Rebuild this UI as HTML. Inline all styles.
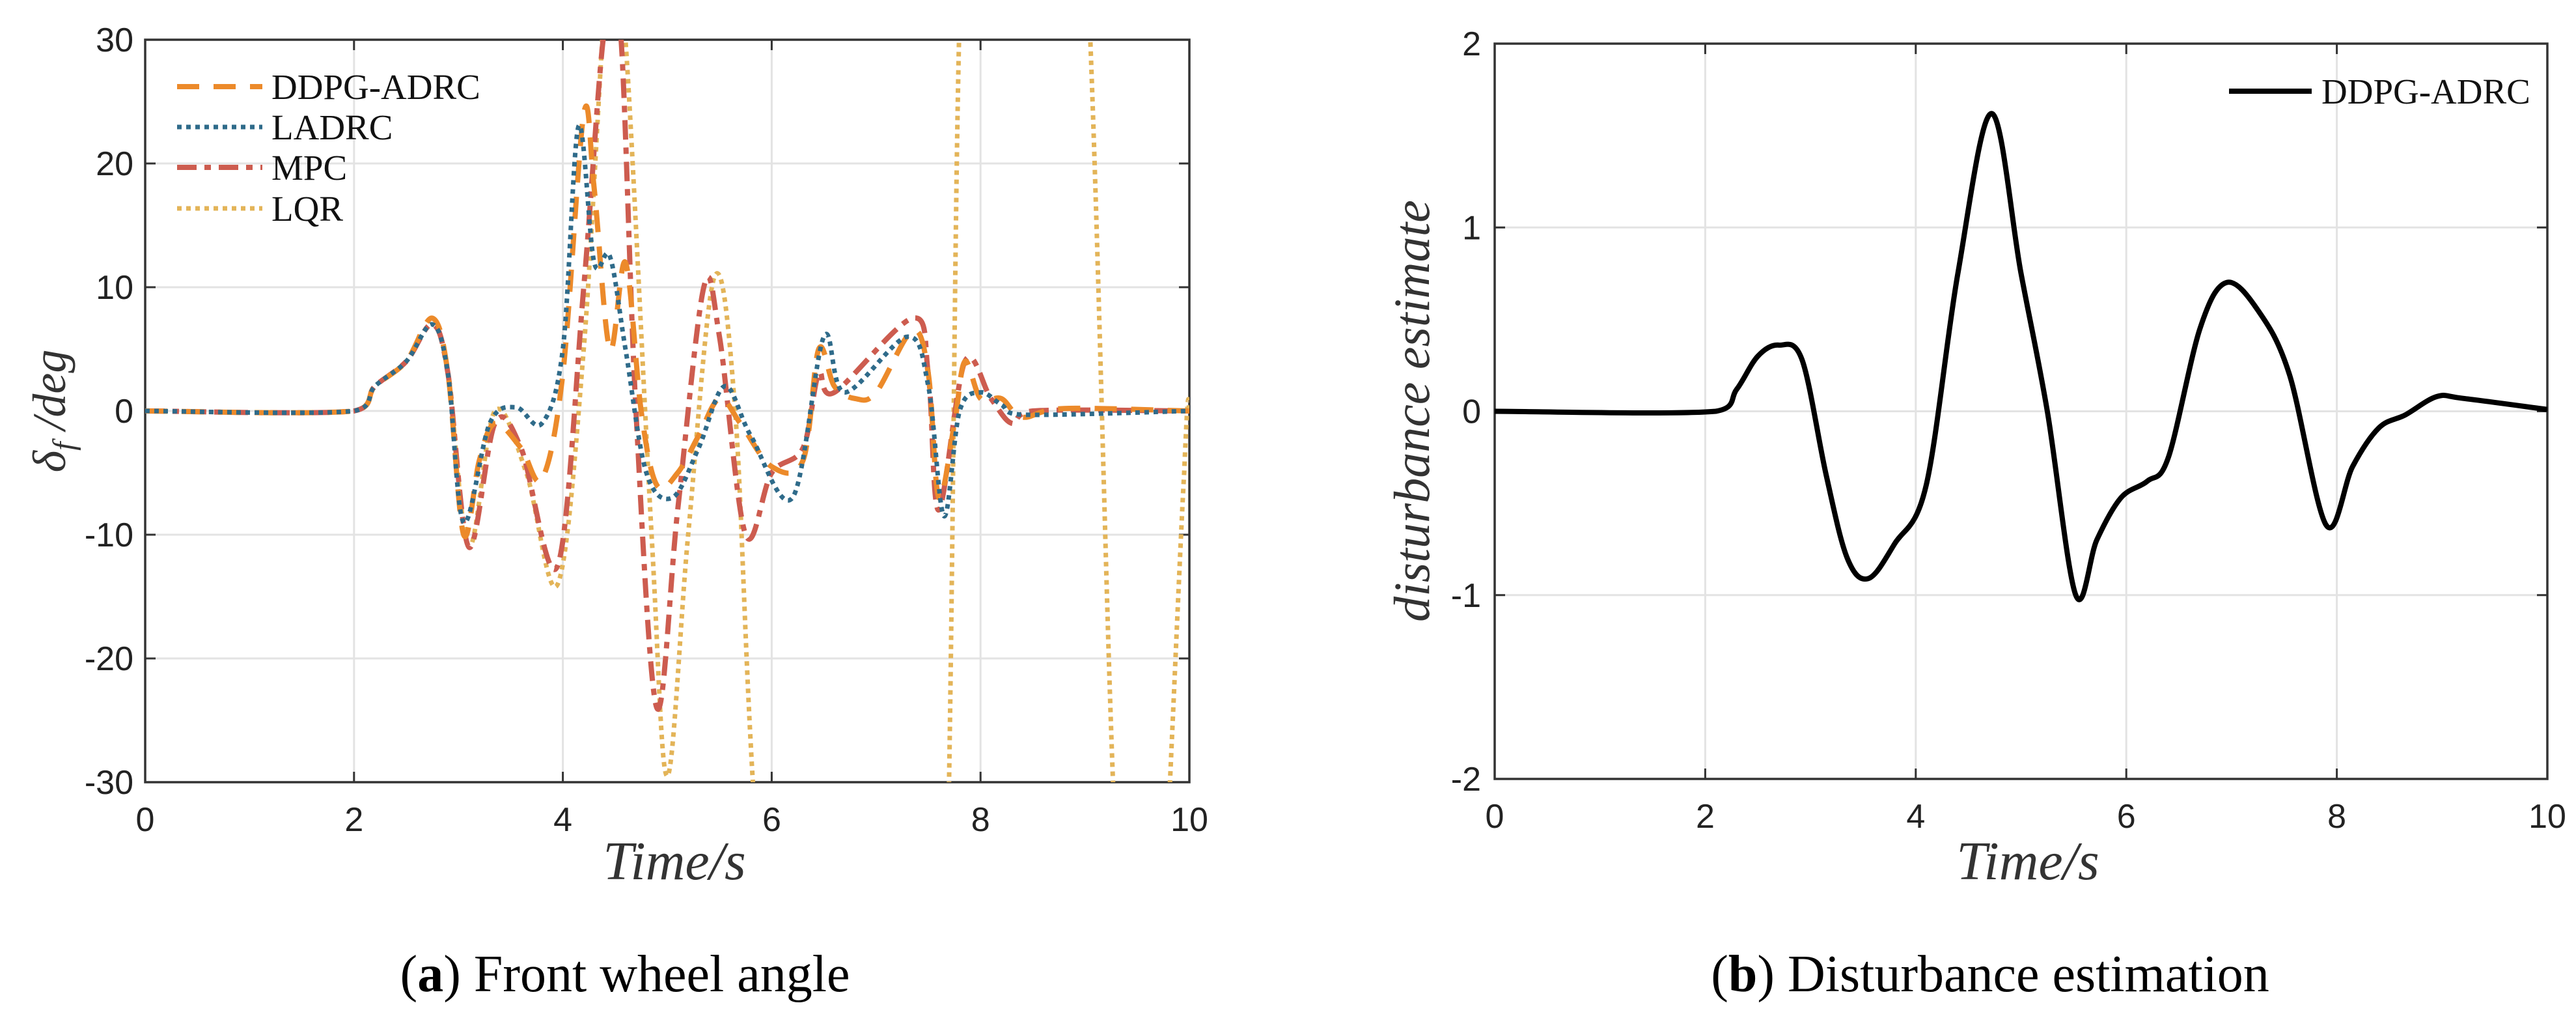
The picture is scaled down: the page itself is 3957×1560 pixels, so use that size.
<!DOCTYPE html>
<html><head><meta charset="utf-8">
<style>
html,body{margin:0;padding:0;background:#fff;overflow:hidden;width:3957px;height:1560px;}
svg{display:block;}
</style></head>
<body>
<svg id="fig" width="3957" height="1560" viewBox="0 0 3957 1560" xmlns="http://www.w3.org/2000/svg">
<defs>
<clipPath id="clipA"><rect x="223" y="61" width="1604" height="1140"/></clipPath>
<clipPath id="clipB"><rect x="2296" y="67" width="1617" height="1129"/></clipPath>
</defs>
<g id="plotA"></g>
<g id="plotB"></g>
<text x="960" y="1522" font-family="Liberation Serif, serif" font-size="80" text-anchor="middle">(<tspan font-weight="bold">a</tspan>) Front wheel angle</text>
<text x="3057" y="1522" font-family="Liberation Serif, serif" font-size="80" text-anchor="middle">(<tspan font-weight="bold">b</tspan>) Disturbance estimation</text>
</svg>
<script>
// ---- data ----
const xTicks = [0, 2, 4, 6, 8, 10];
const yTicksA = [-30, -20, -10, 0, 10, 20, 30];
const yTicksB = [-2, -1, 0, 1, 2];
const seriesNames = ["DDPG-ADRC", "LADRC", "MPC", "LQR"];
const ddpgT = [0,2,2.2,2.5,2.75,2.9,3.05,3.2,3.35,3.6,3.8,4.0,4.2,4.3,4.45,4.6,4.75,4.9,5.1,5.3,5.5,5.7,6.0,6.3,6.45,6.6,6.8,7.0,7.35,7.5,7.6,7.75,7.85,8.0,8.2,8.4,8.8,10];
const ddpgV = [0,0,2,4,7.5,3,-10,-4,-1,-3,-5.5,3,24,18,5,12,0,-6,-5,-2,1,-1,-4.5,-4,5,2,1,1.5,6.5,3,-7,-1,4,1,1,-0.5,0.2,0];
const ladrcT = [0,2,2.2,2.5,2.75,2.9,3.05,3.3,3.55,3.8,4.0,4.15,4.3,4.45,4.6,4.8,5.05,5.3,5.55,5.8,6.2,6.5,6.7,7.3,7.5,7.65,7.8,8.0,8.2,8.4,10];
const ladrcV = [0,0,2,4,7,3,-9,-1,0.3,-1,5,23,12,12.5,5,-5,-7,-3,2,-2,-7,6,1.5,6,2,-8.5,0,1.5,0.5,-0.3,0];
const mpcT = [0,2,2.2,2.5,2.75,2.9,3.1,3.35,3.6,3.95,4.2,4.4,4.55,4.7,4.9,5.1,5.35,5.5,5.75,6.0,6.3,6.45,6.6,7.35,7.5,7.6,7.85,8.1,8.3,8.5,10];
const mpcV = [0,0,2,4,7,3,-11,-1,-3,-12.5,10,31,31,0,-24,-8,10,6,-10,-5,-3,3,1.5,7.5,3,-8,4,1,-1,0,0];
const lqrT = [0,2,2.2,2.5,2.75,2.9,3.1,3.35,3.65,3.95,4.2,4.45,4.6,4.85,5.0,5.2,5.45,5.65,5.85,6.3,7.0,7.6,7.8,8.0,8.5,9.0,9.3,9.6,9.95,10];
const lqrV = [0,0,2,4,7,3,-11,0,-5,-14,5,38,30,-10,-29.5,-10,10.8,0,-34,-80,-100,-60,32,70,100,40,-36,-60,-5,0];
const distT = [0,2.1,2.3,2.5,2.7,2.92,3.15,3.35,3.55,3.8,4.1,4.4,4.72,5.0,5.25,5.52,5.72,5.95,6.2,6.4,6.7,6.95,7.25,7.55,7.9,8.15,8.4,8.65,8.95,9.2,10];
const distV = [0,0,0.12,0.3,0.36,0.28,-0.35,-0.8,-0.91,-0.72,-0.4,0.75,1.62,0.75,0.0,-1.0,-0.7,-0.47,-0.38,-0.25,0.45,0.7,0.55,0.2,-0.62,-0.3,-0.09,-0.02,0.08,0.07,0.01];

const NS = "http://www.w3.org/2000/svg";
function mk(tag, attrs, parent){const e=document.createElementNS(NS,tag);for(const k in attrs)e.setAttribute(k,attrs[k]);parent.appendChild(e);return e;}

function smoothPath(xs, ys, sx, sy){
  const P = xs.map((x,i)=>[sx(x), sy(ys[i])]);
  let d = "M"+P[0][0].toFixed(1)+","+P[0][1].toFixed(1);
  for(let i=0;i<P.length-1;i++){
    const p0=P[Math.max(0,i-1)], p1=P[i], p2=P[i+1], p3=P[Math.min(P.length-1,i+2)];
    const c1=[p1[0]+(p2[0]-p0[0])/6, p1[1]+(p2[1]-p0[1])/6];
    const c2=[p2[0]-(p3[0]-p1[0])/6, p2[1]-(p3[1]-p1[1])/6];
    c1[0]=Math.min(Math.max(c1[0],p1[0]),p2[0]); c2[0]=Math.min(Math.max(c2[0],p1[0]),p2[0]);
    d+=" C"+c1[0].toFixed(1)+","+c1[1].toFixed(1)+" "+c2[0].toFixed(1)+","+c2[1].toFixed(1)+" "+p2[0].toFixed(1)+","+p2[1].toFixed(1);
  }
  return d;
}

function drawAxes(g, L, T, R, B, xmin, xmax, ymin, ymax, yTicks, labelRight){
  const sx = v => L + (v-xmin)/(xmax-xmin)*(R-L);
  const sy = v => B - (v-ymin)/(ymax-ymin)*(B-T);
  xTicks.forEach(t=>{
    const x=sx(t);
    const gl=mk("line",{x1:x,y1:T,x2:x,y2:B,stroke:"#e3e3e3","stroke-width":3},g);
    
    
    mk("line",{x1:x,y1:B,x2:x,y2:B-16,stroke:"#333","stroke-width":3},g);
    mk("line",{x1:x,y1:T,x2:x,y2:T+16,stroke:"#333","stroke-width":3},g);
    const tl=mk("text",{x:x,y:B+75,"font-family":"Liberation Sans, sans-serif","font-size":52,"text-anchor":"middle",fill:"#222"},g);
    tl.textContent=t;
    
    
  });
  yTicks.forEach(t=>{
    const y=sy(t);
    const gl=mk("line",{x1:L,y1:y,x2:R,y2:y,stroke:"#e3e3e3","stroke-width":3},g);
    
    
    mk("line",{x1:L,y1:y,x2:L+16,y2:y,stroke:"#333","stroke-width":3},g);
    mk("line",{x1:R,y1:y,x2:R-16,y2:y,stroke:"#333","stroke-width":3},g);
    const tl=mk("text",{x:labelRight,y:y+18,"font-family":"Liberation Sans, sans-serif","font-size":52,"text-anchor":"end",fill:"#222"},g);
    tl.textContent=t;
    
    
  });
  const box=mk("rect",{x:L,y:T,width:R-L,height:B-T,fill:"none",stroke:"#333","stroke-width":3.5},g);
  
  
  return {sx,sy};
}

// ---- Plot A ----
const gA=document.getElementById("plotA");
const A=drawAxes(gA,223,61,1827,1201,0,10,-30,30,yTicksA,205);
const styles=[
  {t:ddpgT,v:ddpgV,c:"#ec8a2a",dash:"34 22",w:8,name:"ddpg-adrc-line"},
  {t:ladrcT,v:ladrcV,c:"#2f6b8a",dash:"7 7",w:7,name:"ladrc-line"},
  {t:mpcT,v:mpcV,c:"#cd5c4f",dash:"30 12 10 12",w:8,name:"mpc-line"},
  {t:lqrT,v:lqrV,c:"#e3b458",dash:"7 7",w:7,name:"lqr-line"}
];
const clipGA=mk("g",{"clip-path":"url(#clipA)"},gA);
[3,2,0,1].forEach(i=>{
  const s=styles[i];
  const p=mk("path",{d:smoothPath(s.t,s.v,A.sx,A.sy),fill:"none",stroke:s.c,"stroke-width":s.w,"stroke-dasharray":s.dash},clipGA);
  
  
});
const legYs=[133,195,257,320];
seriesNames.forEach((n,i)=>{
  const s=styles[i];
  const ln=mk("line",{x1:272,y1:legYs[i],x2:403,y2:legYs[i],stroke:s.c,"stroke-width":s.w,"stroke-dasharray":s.dash},gA);
  
  
  const tx=mk("text",{x:417,y:legYs[i]+19,"font-family":"Liberation Serif, serif","font-size":55,fill:"#111"},gA);
  tx.textContent=n;
  
  
});
const xtA=mk("text",{x:1036,y:1350,"font-family":"Liberation Serif, serif","font-style":"italic","font-size":84,"text-anchor":"middle",fill:"#333"},gA);
xtA.textContent="Time/s";


const ytA=mk("text",{x:0,y:0,"font-family":"Liberation Serif, serif","font-style":"italic","font-size":72,"text-anchor":"middle",fill:"#333",transform:"translate(100,631) rotate(-90)"},gA);
ytA.innerHTML='δ<tspan font-size="48" dy="14">f</tspan><tspan dy="-14"> /deg</tspan>';



// ---- Plot B ----
const gB=document.getElementById("plotB");
const B=drawAxes(gB,2296,67,3913,1196,0,10,-2,2,yTicksB,2275);
const clipGB=mk("g",{"clip-path":"url(#clipB)"},gB);
const pb=mk("path",{d:smoothPath(distT,distV,B.sx,B.sy),fill:"none",stroke:"#000","stroke-width":8},clipGB);


const lb=mk("line",{x1:3424,y1:140,x2:3551,y2:140,stroke:"#000","stroke-width":8},gB);


const lbt=mk("text",{x:3566,y:159,"font-family":"Liberation Serif, serif","font-size":55,fill:"#111"},gB);
lbt.textContent="DDPG-ADRC";


const xtB=mk("text",{x:3115,y:1350,"font-family":"Liberation Serif, serif","font-style":"italic","font-size":84,"text-anchor":"middle",fill:"#333"},gB);
xtB.textContent="Time/s";


const ytB=mk("text",{x:0,y:0,"font-family":"Liberation Serif, serif","font-style":"italic","font-size":78,"text-anchor":"middle",fill:"#333",transform:"translate(2195,631) rotate(-90)"},gB);
ytB.textContent="disturbance  estimate";


</script>
</body></html>
